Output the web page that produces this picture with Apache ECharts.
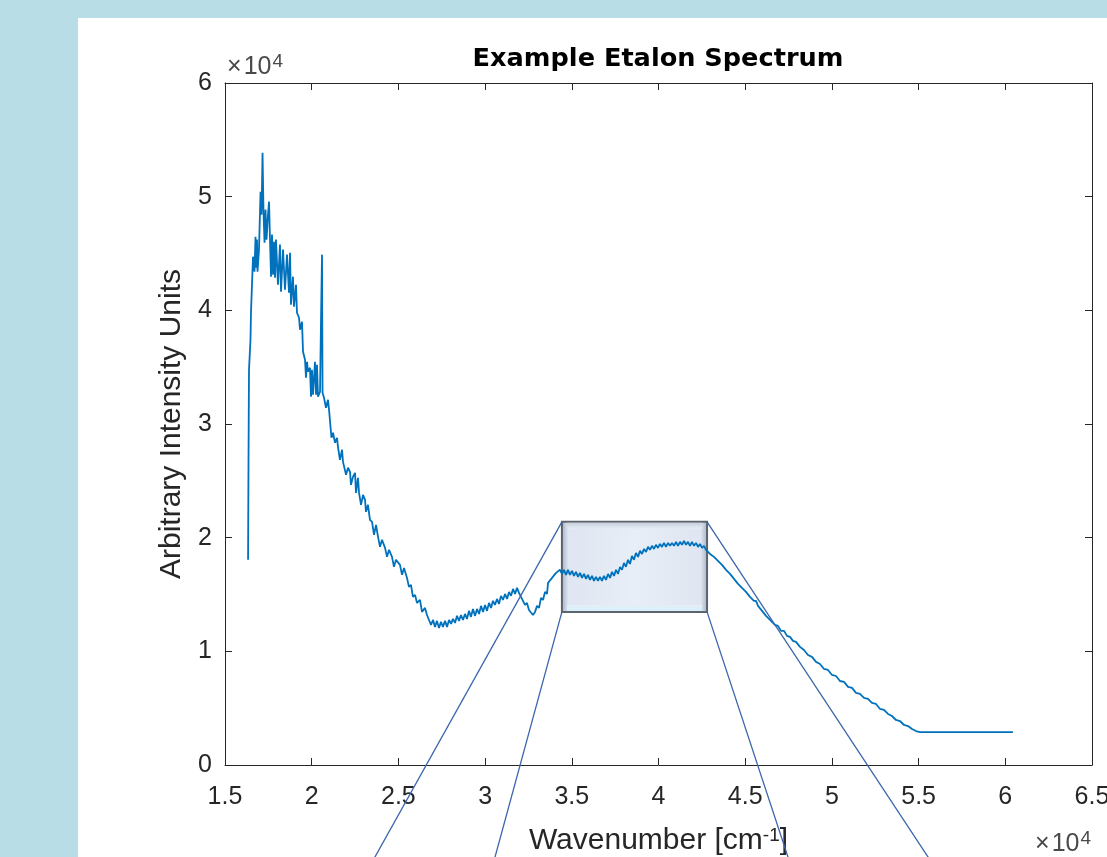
<!DOCTYPE html>
<html>
<head>
<meta charset="utf-8">
<script src="https://cdn.jsdelivr.net/npm/echarts@6/dist/echarts.min.js"></script>
<style>
  html, body { margin: 0; padding: 0; width: 1107px; height: 857px; overflow: hidden; background: #b8dde7; }
  #panel { position: absolute; left: 78px; top: 18px; right: 0; bottom: 0; background: #ffffff; }
  #c { position: absolute; left: 0; top: 0; width: 1107px; height: 857px; }
</style>
</head>
<body>
<div id="panel"></div>
<div id="c"></div>
<script>
// ---- data ----
const wavenumber = [
  16330,16355,16384,16470,16500,16590,16615,16672,16700,16760,
  16790,16845,16875,16960,17050,17105,17165,17220,17280,17335,
  17395,17480,17540,17595,17655,17710,17770,17825,17885,17940,
  18055,18170,18230,18345,18460,18575,18690,18750,18805,18920,
  18980,19095,19150,19270,19325,19440,19500,19615,19670,19730,
  19785,19900,19960,20015,20075,20190,20250,20305,20365,20480,
  20535,20595,20625,20710,20825,20940,21000,21115,21140,21230,
  21345,21460,21515,21630,21750,21805,21920,21980,22095,22210,
  22265,22380,22500,22555,22670,22730,22845,22960,23075,23130,
  23245,23360,23480,23595,23710,23825,23940,24055,24230,24345,
  24460,24630,24745,24860,25090,25210,25325,25495,25610,25725,
  25840,25960,26075,26245,26360,26535,26650,26765,26880,27000,
  27110,27225,27340,27455,27570,27690,27805,27920,28035,28150,
  28265,28380,28495,28610,28725,28840,28955,29070,29185,29300,
  29420,29535,29650,29765,29880,29995,30110,30225,30340,30455,
  30570,30685,30800,30915,31030,31150,31265,31380,31495,31610,
  31725,31840,31955,32070,32185,32300,32415,32530,32645,32760,
  32880,32995,33110,33225,33340,33455,33570,33630,33745,33860,
  33975,34090,34205,34320,34435,34550,34665,34780,34895,35010,
  35125,35240,35360,35475,35590,35705,35820,35935,36050,36165,
  36280,36395,36510,36625,36740,36855,36970,37090,37205,37320,
  37435,37550,37665,37780,37895,38010,38125,38240,38355,38470,
  38585,38700,38820,38935,39050,39165,39280,39395,39510,39625,
  39740,39855,39970,40085,40200,40315,40430,40550,40665,40780,
  40895,41010,41125,41240,41355,41470,41585,41700,41815,41930,
  42045,42165,42280,42395,42510,42625,42740,42855,42970,43085,
  43200,43315,43430,43545,43660,43775,43895,44010,44125,44240,
  44355,44470,44585,44700,44815,44930,45045,45160,45275,45390,
  45505,45625,45740,45855,45970,46085,46200,46315,46430,46545,
  46720,46890,47065,47240,47410,47585,47755,47930,48160,48390,
  48620,48850,49085,49315,49545,49775,50005,50235,50465,50700,
  50930,51160,51390,51620,51850,52080,52310,52545,52775,53005,
  53235,53465,53695,53925,54160,54390,54620,54850,55080,55660,
  60440
];
const intensity = [
  18050,26410,34770,37410,39880,39880,44720,44720,43400,46480,
  43750,46220,43400,45340,50440,48420,53870,48680,45950,48860,
  46220,48420,49560,46220,42960,46660,43130,46040,42870,46220,
  42250,45780,41640,45340,41810,44900,41550,45070,40490,42960,
  40320,42250,39790,39350,38290,39000,36360,35650,34070,35480,
  34600,34950,32400,34770,32570,35480,32570,35210,32400,32840,
  38910,44900,32750,32310,31430,32130,31250,31080,28790,29230,
  28350,28790,27990,26850,27730,26670,26590,25530,26150,25790,
  24650,25350,25700,23940,25260,23940,22890,23770,23330,22270,
  22890,21570,21390,20250,21130,20070,19190,19810,19100,18310,
  18930,18310,17430,18050,17610,16730,17340,16460,15670,15850,
  14790,14970,14260,14520,13470,13820,13200,12760,12320,12760,
  12150,12680,12060,12590,12150,12680,12150,12760,12410,12850,
  12500,13120,12680,13200,12760,13290,12850,13560,13030,13730,
  13120,13730,13290,14000,13470,14080,13560,14260,13820,14440,
  14080,14610,14170,14880,14520,15050,14610,15230,14880,15490,
  15050,15580,15140,14790,14880,14080,14260,13640,13470,13200,
  13470,14000,13820,14700,14520,15230,15050,16020,15850,16460,
  16290,16900,16730,17170,16810,17170,16730,17170,16730,17080,
  16640,16990,16550,16900,16460,16810,16370,16730,16290,16640,
  16200,16550,16200,16550,16200,16640,16290,16810,16460,16990,
  16640,17170,16810,17430,17170,17780,17430,18050,17690,18400,
  18050,18660,18310,18840,18570,19010,18750,19190,18930,19280,
  19010,19370,19100,19450,19190,19540,19190,19540,19280,19540,
  19280,19630,19280,19630,19370,19720,19370,19630,19280,19630,
  19280,19540,19190,19450,19100,19280,18930,18930,18570,18660,
  18310,18310,17960,18050,17610,17610,17170,17250,16810,16810,
  16370,16370,15930,16020,15580,15670,15230,15230,14790,14790,
  14440,14440,14000,14000,13560,13560,13120,13200,12760,12760,
  12320,12240,11800,11800,11360,11270,10920,10830,10390,10120,
  9680,9510,9070,8890,8450,8360,7920,7830,7390,7310,
  6870,6780,6340,6250,5900,5810,5460,5370,4930,4840,
  4490,4310,3960,3870,3520,3430,3170,2990,2900,2900,
  2900
];
const xTicks = { min: 15000, max: 65000, step: 5000 };
const yTicks = { min: 0, max: 60000, step: 10000 };
const axisScale = 1e4;
const titleText = 'Example Etalon Spectrum';
const yName = 'Arbitrary Intensity Units';
const multBase = '×\u200a10';
const multExp = '4';
// zoom-box annotation in data coordinates: [xLeft, xRight], [yBottom, yTop]
const zoomBoxX = [34430, 42800];
const zoomBoxY = [13470, 21390];
// far ends of the four projection rays (data coordinates, below the axis)
const rayEndsX = [23550, 30525, 47525, 55660];
const rayEndY = -8360;

const INK = '#262626';
const FONT = 'Liberation Sans, Arial, Helvetica, sans-serif';

const chart = echarts.init(document.getElementById('c'), null, { renderer: 'canvas', width: 1107, height: 857 });

const fmt = v => String(+(v / axisScale).toFixed(2));
const baseX = {
  type: 'value', min: xTicks.min, max: xTicks.max, interval: xTicks.step,
  axisLine: { show: true, onZero: false, lineStyle: { color: INK, width: 1 } },
  axisTick: { show: true, inside: true, length: 7, lineStyle: { color: INK, width: 1 } },
  splitLine: { show: false }
};
const baseY = {
  type: 'value', min: yTicks.min, max: yTicks.max, interval: yTicks.step,
  axisLine: { show: true, onZero: false, lineStyle: { color: INK, width: 1 } },
  axisTick: { show: true, inside: true, length: 7, lineStyle: { color: INK, width: 1 } },
  splitLine: { show: false }
};

const option = {
  animation: false,
  backgroundColor: 'transparent',
  title: {
    text: titleText, left: 653, top: 41, textAlign: 'center',
    textStyle: { fontFamily: 'DejaVu Sans, sans-serif', fontWeight: 'bold', fontSize: 25.6, color: '#000' }
  },
  grid: { left: 225, right: 15, top: 83, bottom: 92, containLabel: false, outerBoundsMode: 'none' },
  xAxis: [
    Object.assign({}, baseX, {
      position: 'bottom',
      axisLabel: { show: true, formatter: fmt, margin: 20, fontSize: 25, fontFamily: FONT, color: INK },
      name: '{n|Wavenumber [cm}{s|-1}{n|]}', nameLocation: 'middle', nameGap: 61,
      nameTextStyle: {
        color: INK,
        rich: {
          n: { fontSize: 30, fontFamily: FONT, color: INK },
          s: { fontSize: 19, fontFamily: FONT, color: INK, verticalAlign: 'top' }
        }
      }
    }),
    Object.assign({}, baseX, { position: 'top', axisLabel: { show: false } })
  ],
  yAxis: [
    Object.assign({}, baseY, {
      position: 'left',
      axisLabel: { show: true, formatter: fmt, margin: 13, fontSize: 25, fontFamily: FONT, color: INK },
      name: yName, nameLocation: 'middle', nameGap: 35, nameRotate: 90,
      nameTextStyle: { fontSize: 30, fontFamily: FONT, color: INK }
    }),
    Object.assign({}, baseY, { position: 'right', axisLabel: { show: false } })
  ],
  series: [{
    type: 'line',
    xAxisIndex: 0, yAxisIndex: 0,
    data: wavenumber.map((x, i) => [x, intensity[i]]),
    showSymbol: false,
    symbol: 'none',
    lineStyle: { color: '#0072BD', width: 1.8 },
    z: 3
  }]
};
chart.setOption(option);

function textWidth(str, size) {
  const ctx = document.createElement('canvas').getContext('2d');
  ctx.font = size + 'px ' + FONT;
  return ctx.measureText(str).width;
}

function multiplier(xLeft, yBase) {
  const baseSize = 25, expSize = 19;
  const wBase = textWidth(multBase, baseSize);
  return [
    { type: 'text', z: 10, silent: true, x: xLeft, y: yBase,
      style: { text: multBase, fontSize: baseSize, fontFamily: FONT, fill: '#4a4a4a', textVerticalAlign: 'bottom', textAlign: 'left' } },
    { type: 'text', z: 10, silent: true, x: xLeft + wBase + 1, y: yBase - 9,
      style: { text: multExp, fontSize: expSize, fontFamily: FONT, fill: '#4a4a4a', textVerticalAlign: 'bottom', textAlign: 'left' } }
  ];
}

function drawAnnotations() {
  const toPx = p => chart.convertToPixel({ xAxisIndex: 0, yAxisIndex: 0 }, p);
  const tl = toPx([zoomBoxX[0], zoomBoxY[1]]);
  const br = toPx([zoomBoxX[1], zoomBoxY[0]]);
  const bl = [tl[0], br[1]];
  const tr = [br[0], tl[1]];
  const w = br[0] - tl[0], h = br[1] - tl[1];
  const corners = [tl, bl, br, tr];
  const rays = corners.map((c, i) => {
    const e = toPx([rayEndsX[i], rayEndY]);
    return { type: 'line', z: 10, silent: true,
      shape: { x1: c[0], y1: c[1], x2: e[0], y2: e[1] },
      style: { stroke: '#3b66ad', lineWidth: 1.3 } };
  });
  const origin = toPx([xTicks.min, yTicks.max]);
  const xEnd = toPx([xTicks.max, yTicks.min]);
  const totalW = textWidth(multBase, 25) + 1 + textWidth(multExp, 19);
  chart.setOption({
    graphic: [
      { type: 'rect', z: 1, silent: true,
        shape: { x: tl[0], y: tl[1], width: w, height: h },
        style: {
          fill: { type: 'linear', x: 0, y: 0, x2: 1, y2: 0, colorStops: [
            { offset: 0, color: '#9fadc4' }, { offset: 0.05, color: '#dfe6f1' },
            { offset: 0.5, color: '#e8eef7' }, { offset: 0.95, color: '#dfe6f1' }, { offset: 1, color: '#9fadc4' }] },
          stroke: '#5e646d', lineWidth: 2
        } },
      { type: 'rect', z: 1, silent: true,
        shape: { x: tl[0] + 5, y: tl[1] + 1, width: w - 10, height: 6 },
        style: { fill: { type: 'linear', x: 0, y: 0, x2: 0, y2: 1, colorStops: [
          { offset: 0, color: '#c9d0db' }, { offset: 1, color: '#e6ecf5' }] } } },
      { type: 'rect', z: 1, silent: true,
        shape: { x: tl[0] + 5, y: br[1] - 7, width: w - 10, height: 6 },
        style: { fill: { type: 'linear', x: 0, y: 0, x2: 0, y2: 1, colorStops: [
          { offset: 0, color: '#e6eef6' }, { offset: 1, color: '#d6f1fb' }] } } },
      ...rays,
      ...multiplier(origin[0] + 2, origin[1] - 3),
      ...multiplier(xEnd[0] - totalW - 1, xEnd[1] + 92)
    ]
  });
}
drawAnnotations();
</script>
</body>
</html>
